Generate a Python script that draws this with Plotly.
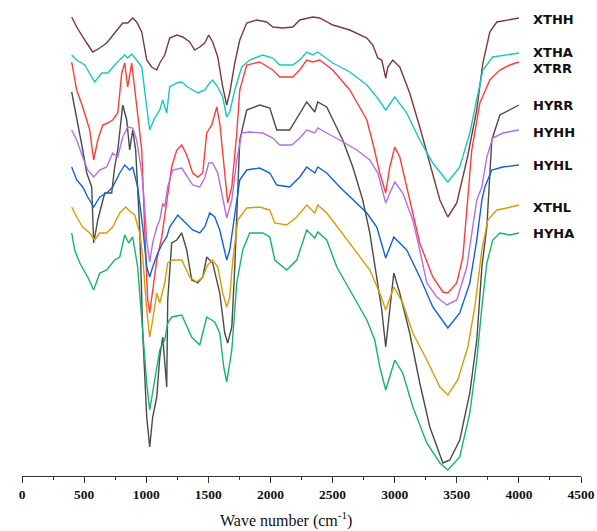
import plotly.graph_objects as go

# ---- FTIR spectra (wave number in cm-1, transmittance in arbitrary offset units) ----
xthh_wn = [400, 440, 521, 569, 626, 682, 746, 811, 851, 891, 923, 964, 1004, 1044, 1085, 1109, 1149, 1189, 1246, 1294,
           1350, 1390, 1431, 1471, 1503, 1535, 1576, 1616, 1648, 1672, 1713, 1753, 1809, 1890, 1970, 2019, 2099, 2180,
           2236, 2341, 2397, 2502, 2639, 2776, 2824, 2864, 2896, 2928, 2945, 2985, 3041, 3121, 3202, 3283, 3364, 3428,
           3500, 3581, 3661, 3710, 3766, 3822, 3903, 4000]
xthh_t = [463, 453, 437, 428, 432, 437, 447, 457, 457, 462, 458, 448, 420, 413, 410, 417, 425, 442, 445, 443,
          438, 430, 433, 437, 445, 438, 423, 393, 375, 387, 417, 440, 457, 460, 458, 453, 452, 453,
          460, 463, 462, 455, 450, 442, 435, 422, 420, 402, 413, 420, 413, 387, 353, 317, 280, 263,
          277, 320, 370, 417, 448, 458, 460, 462]

xtha_wn = [400, 440, 505, 585, 642, 690, 762, 827, 851, 883, 923, 964, 1004, 1028, 1068, 1109, 1133, 1165, 1189, 1246,
           1286, 1334, 1415, 1471, 1511, 1535, 1576, 1616, 1648, 1672, 1713, 1769, 1833, 1938, 2019, 2075, 2180, 2236,
           2292, 2341, 2381, 2502, 2639, 2776, 2856, 2928, 3001, 3097, 3202, 3307, 3428, 3524, 3605, 3661, 3710, 3790,
           3903, 4000]
xtha_t = [425, 420, 415, 398, 407, 407, 417, 425, 422, 426, 420, 413, 373, 350, 362, 370, 380, 367, 393, 397,
          398, 393, 387, 390, 397, 400, 393, 383, 363, 368, 390, 413, 420, 425, 422, 415, 415, 420,
          428, 425, 428, 417, 408, 395, 383, 370, 383, 367, 340, 317, 298, 313, 347, 380, 410, 423,
          425, 427]

xtrr_wn = [400, 440, 489, 545, 577, 610, 650, 690, 730, 771, 803, 827, 851, 883, 915, 948, 964, 988, 1012, 1028,
           1052, 1085, 1125, 1149, 1165, 1205, 1246, 1286, 1326, 1374, 1415, 1455, 1487, 1527, 1568, 1592, 1632, 1656,
           1689, 1729, 1753, 1809, 1914, 2019, 2075, 2180, 2236, 2292, 2341, 2397, 2502, 2639, 2776, 2824, 2880, 2928,
           2961, 3001, 3041, 3097, 3202, 3307, 3388, 3428, 3500, 3549, 3581, 3621, 3686, 3766, 3847, 3927, 4000]
xtrr_t = [418, 390, 373, 350, 320, 340, 355, 357, 360, 367, 407, 417, 393, 417, 383, 350, 330, 250, 180, 167,
          190, 220, 243, 263, 280, 313, 330, 335, 325, 307, 303, 307, 347, 355, 373, 357, 307, 277,
          293, 347, 390, 415, 418, 410, 403, 403, 410, 420, 418, 420, 410, 390, 360, 337, 307, 287,
          313, 333, 323, 293, 237, 203, 188, 187, 197, 223, 270, 330, 377, 400, 410, 415, 418]

hyrr_wn = [400, 440, 465, 489, 521, 561, 577, 610, 666, 722, 746, 771, 811, 843, 867, 891, 915, 931, 948, 972,
           1004, 1028, 1052, 1085, 1109, 1133, 1165, 1173, 1205, 1246, 1286, 1326, 1366, 1415, 1455, 1487, 1535, 1592,
           1632, 1656, 1689, 1713, 1753, 1809, 1914, 1995, 2051, 2155, 2236, 2292, 2357, 2381, 2453, 2502, 2582, 2663,
           2743, 2800, 2856, 2896, 2928, 2945, 2993, 3041, 3121, 3202, 3283, 3388, 3444, 3524, 3605, 3661, 3702, 3742,
           3782, 3847, 3927, 4000]
hyrr_t = [388, 363, 347, 330, 307, 293, 237, 260, 287, 287, 313, 330, 375, 360, 330, 350, 330, 290, 250, 147,
          63, 33, 63, 83, 123, 143, 93, 180, 237, 240, 247, 230, 200, 197, 203, 223, 217, 187,
          147, 137, 153, 213, 340, 370, 375, 372, 350, 350, 367, 378, 368, 378, 373, 360, 340, 313,
          280, 247, 203, 170, 133, 153, 207, 187, 147, 97, 53, 17, 20, 40, 87, 140, 213, 253,
          340, 365, 370, 375]

hyhh_wn = [400, 440, 489, 529, 577, 626, 682, 730, 771, 811, 851, 891, 923, 964, 988, 1004, 1028, 1052, 1085, 1109,
           1133, 1149, 1173, 1213, 1286, 1334, 1374, 1431, 1471, 1503, 1535, 1576, 1616, 1648, 1689, 1729, 1769, 1833,
           1938, 2019, 2075, 2172, 2236, 2292, 2357, 2381, 2453, 2558, 2695, 2800, 2864, 2928, 2961, 3001, 3065, 3146,
           3202, 3259, 3339, 3420, 3500, 3581, 3621, 3661, 3702, 3742, 3790, 3871, 4000]
hyhh_t = [350, 340, 323, 310, 303, 310, 313, 327, 323, 343, 353, 352, 340, 307, 273, 240, 218, 237, 253, 260,
          277, 273, 293, 310, 312, 303, 295, 293, 302, 317, 317, 307, 280, 262, 280, 320, 347, 348,
          347, 342, 335, 335, 342, 350, 347, 352, 347, 340, 330, 320, 307, 277, 287, 298, 287, 260,
          230, 197, 183, 175, 180, 213, 247, 280, 293, 323, 342, 347, 350]

hyhl_wn = [400, 440, 489, 529, 577, 626, 682, 730, 787, 827, 867, 891, 931, 972, 1004, 1028, 1052, 1093, 1133, 1165,
           1189, 1254, 1310, 1374, 1431, 1471, 1511, 1552, 1592, 1648, 1672, 1697, 1729, 1753, 1809, 1914, 1995, 2051,
           2155, 2236, 2292, 2357, 2381, 2453, 2558, 2695, 2776, 2856, 2928, 2993, 3097, 3202, 3307, 3428, 3524, 3605,
           3661, 3702, 3726, 3782, 3871, 4000]
hyhl_t = [313, 300, 293, 283, 273, 283, 287, 293, 307, 315, 310, 313, 293, 253, 213, 203, 213, 227, 237, 243,
          253, 265, 258, 250, 247, 253, 267, 263, 250, 220, 230, 253, 280, 300, 310, 312, 307, 295,
          293, 303, 313, 307, 313, 307, 293, 277, 267, 253, 222, 243, 230, 203, 173, 152, 167, 197,
          240, 280, 293, 310, 313, 315]

xthl_wn = [400, 440, 489, 545, 585, 626, 682, 730, 787, 835, 875, 907, 948, 972, 1004, 1028, 1052, 1085, 1109, 1149,
           1173, 1213, 1286, 1350, 1406, 1455, 1495, 1535, 1576, 1616, 1648, 1672, 1697, 1737, 1809, 1914, 1995, 2035,
           2131, 2212, 2292, 2357, 2381, 2453, 2558, 2695, 2800, 2880, 2928, 2993, 3065, 3146, 3259, 3364, 3428, 3508,
           3589, 3645, 3702, 3750, 3822, 3903, 4000]
xthl_t = [273, 263, 253, 247, 240, 247, 247, 253, 267, 273, 268, 265, 247, 223, 170, 143, 160, 187, 177, 197,
          217, 220, 220, 203, 198, 203, 215, 220, 213, 187, 173, 183, 220, 260, 272, 273, 270, 257,
          255, 263, 275, 267, 275, 267, 250, 227, 210, 187, 170, 193, 177, 147, 120, 93, 85, 100,
          133, 173, 230, 260, 270, 272, 275]

hyha_wn = [400, 424, 465, 529, 577, 626, 682, 746, 787, 827, 859, 891, 931, 972, 1004, 1028, 1068, 1109, 1149, 1173,
           1205, 1286, 1366, 1431, 1487, 1552, 1592, 1624, 1648, 1689, 1729, 1777, 1833, 1938, 1995, 2035, 2131, 2212,
           2292, 2357, 2381, 2453, 2534, 2639, 2776, 2840, 2880, 2928, 3001, 3065, 3146, 3259, 3364, 3428, 3524, 3605,
           3661, 3702, 3742, 3790, 3847, 3927, 4000]
hyha_t = [247, 230, 217, 203, 190, 207, 210, 220, 223, 245, 237, 243, 213, 147, 97, 70, 100, 130, 140, 157,
          163, 165, 143, 135, 163, 158, 147, 113, 98, 130, 197, 230, 247, 247, 243, 220, 210, 220,
          250, 242, 248, 240, 213, 190, 160, 140, 113, 90, 120, 107, 73, 37, 17, 10, 23, 67,
          120, 173, 217, 240, 247, 245, 247]

names = ["XTHH", "XTHA", "XTRR", "HYRR", "HYHH", "HYHL", "XTHL", "HYHA"]
label_levels = [460.5, 428, 412, 375, 348, 315, 273, 247]
colors = ["#7B3A3A", "#17C7C2", "#FF3B3B", "#4A4A4A", "#B56FE3", "#1062DA", "#D99C05", "#14B46C"]
wns = [xthh_wn, xtha_wn, xtrr_wn, hyrr_wn, hyhh_wn, hyhl_wn, xthl_wn, hyha_wn]
ts = [xthh_t, xtha_t, xtrr_t, hyrr_t, hyhh_t, hyhl_t, xthl_t, hyha_t]

x_ticks = [0, 500, 1000, 1500, 2000, 2500, 3000, 3500, 4000, 4500]
x_minor = [250, 750, 1250, 1750, 2250, 2750, 3250, 3750, 4250]

fig = go.Figure()
for name, wn, t, c in zip(names, wns, ts, colors):
    fig.add_trace(go.Scatter(x=wn, y=t, mode="lines", name=name,
                             line=dict(color=c, width=1.4), showlegend=False))

for name, lvl in zip(names, label_levels):
    fig.add_annotation(x=4100, y=lvl, text=name, showarrow=False, xanchor="left", yanchor="middle",
                       font=dict(family="DejaVu Sans", size=13, color="#111111", weight="bold"))

fig.add_annotation(x=2123, y=-0.094, xref="x", yref="paper", text="Wave number (cm<sup>-1</sup>)",
                   showarrow=False, xanchor="center", yanchor="middle",
                   font=dict(family="Liberation Serif", size=16, color="#111111"))

fig.update_layout(
    width=597, height=531,
    margin=dict(l=22, r=16, t=10, b=55),
    plot_bgcolor="white", paper_bgcolor="white",
    xaxis=dict(range=[0, 4500], tickvals=x_ticks, ticktext=[str(v) for v in x_ticks],
               ticks="outside", ticklen=6, tickwidth=1.2, tickcolor="#333333",
               showline=True, linecolor="#333333", linewidth=1.3,
               showgrid=False, zeroline=False, automargin=False,
               tickfont=dict(family="Liberation Serif", size=13.5, color="#111111", weight="bold"),
               minor=dict(tickvals=x_minor, ticks="outside", ticklen=3, tickcolor="#333333", showgrid=False)),
    yaxis=dict(range=[4, 470], visible=False),
)

fig.write_html("out.html", config={"displayModeBar": False},
               post_script="document.body.style.margin='0';")
